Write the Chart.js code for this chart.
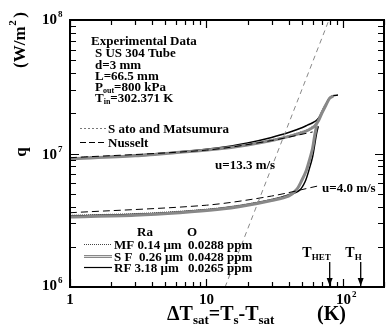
<!DOCTYPE html>
<html>
<head>
<meta charset="utf-8">
<script src="https://cdn.jsdelivr.net/npm/chart.js@4.4.1/dist/chart.umd.min.js"></script>
<style>
  html, body { margin: 0; padding: 0; background: #fff; }
  #wrap { width: 387px; height: 329px; }
</style>
</head>
<body>
<div id="wrap"><canvas id="chart" width="387" height="329"></canvas></div>
<script>
// axis ranges
const xMin = 1, xMax = 200;
const yMin = 1e6, yMax = 1e8;

// u = 13.3 m/s
const rfHighDT = [1, 3, 6.4, 12, 20, 30, 41, 50, 55, 60, 65, 70, 75, 80, 86, 92];
const rfHighQ  = [9.2e6, 9.7e6, 1.03e7, 1.1e7, 1.2e7, 1.32e7, 1.45e7, 1.56e7, 1.63e7, 1.7e7, 1.8e7, 2.0e7, 2.3e7, 2.6e7, 2.72e7, 2.74e7];
const sfHighDT = [1, 3, 6.4, 12, 20, 30, 41, 50, 56, 62, 66, 70, 75, 80, 85];
const sfHighQ  = [9.1e6, 9.6e6, 1.02e7, 1.08e7, 1.16e7, 1.25e7, 1.35e7, 1.43e7, 1.5e7, 1.6e7, 1.75e7, 2.0e7, 2.3e7, 2.6e7, 2.7e7];
const mfHighDT = [1, 3, 6.4, 12, 20, 30, 41, 50, 56, 62, 66, 70, 75, 80, 84];
const mfHighQ  = [9.3e6, 9.7e6, 1.03e7, 1.09e7, 1.17e7, 1.27e7, 1.37e7, 1.46e7, 1.53e7, 1.65e7, 1.85e7, 2.1e7, 2.4e7, 2.65e7, 2.7e7];

// u = 4.0 m/s
const rfLowDT = [1, 3, 6.4, 12, 20, 30, 40, 48, 53, 57, 60, 62, 64, 66];
const rfLowQ  = [3.4e6, 3.5e6, 3.65e6, 3.85e6, 4.15e6, 4.5e6, 4.9e6, 5.3e6, 6.2e6, 7.8e6, 9.5e6, 1.15e7, 1.4e7, 1.6e7];
const sfLowDT = [1, 3, 6.4, 12, 20, 30, 40, 46, 50, 54, 57, 60, 62, 64];
const sfLowQ  = [3.35e6, 3.45e6, 3.6e6, 3.8e6, 4.1e6, 4.45e6, 4.8e6, 5.4e6, 6.3e6, 7.5e6, 9.0e6, 1.1e7, 1.35e7, 1.6e7];
const mfLowDT = [1, 3, 6.4, 12, 20, 30, 40, 47, 51, 55, 58, 61, 63, 65];
const mfLowQ  = [3.45e6, 3.55e6, 3.7e6, 3.9e6, 4.2e6, 4.55e6, 4.95e6, 5.6e6, 6.6e6, 7.9e6, 9.6e6, 1.2e7, 1.45e7, 1.65e7];

// correlations
const nuHighDT = [1, 10, 30, 60];
const nuHighQ  = [9.3e6, 1.06e7, 1.25e7, 1.45e7];
const nuLowDT = [1, 10, 30, 65];
const nuLowQ  = [3.6e6, 4.1e6, 4.8e6, 5.7e6];
const satoDT = [13.7, 79];
const satoQ  = [1e6, 1e8];

// markers on the x axis
const tHET = 80, tH = 135;

const pts = (xs, ys) => xs.map((x, i) => ({ x: x, y: ys[i] }));

const line = (data, color, width, dash) => ({
    data: data, borderColor: color, borderWidth: width, borderDash: dash || [],
    pointRadius: 0, fill: false, tension: 0.3
});

const frame = {
    id: 'frame',
    afterDraw(chart) {
        const { ctx, chartArea: a, scales } = chart;
        const sx = scales.x, sy = scales.y;
        ctx.save();
        ctx.strokeStyle = '#000';
        ctx.fillStyle = '#000';

        // ticks, inside on all four sides
        ctx.lineWidth = 1.2;
        for (let d = 1; d <= 100; d *= 10) {
            for (let m = 1; m <= 9; m++) {
                const v = d * m;
                if (v > xMax) break;
                const px = Math.round(sx.getPixelForValue(v)) + 0.5;
                const len = m === 1 ? 8 : 5;
                ctx.beginPath();
                ctx.moveTo(px, a.bottom); ctx.lineTo(px, a.bottom - len);
                ctx.moveTo(px, a.top); ctx.lineTo(px, a.top + len);
                ctx.stroke();
            }
        }
        for (let d = 1e6; d < yMax; d *= 10) {
            for (let m = 1; m <= 9; m++) {
                const py = Math.round(sy.getPixelForValue(d * m)) + 0.5;
                const len = m === 1 ? 9 : 6;
                ctx.beginPath();
                ctx.moveTo(a.left, py); ctx.lineTo(a.left + len, py);
                ctx.moveTo(a.right, py); ctx.lineTo(a.right - len, py);
                ctx.stroke();
            }
        }
        ctx.lineWidth = 2;
        ctx.strokeRect(a.left, a.top, a.right - a.left, a.bottom - a.top);

        // tick labels
        const sup = (base, exp, x, y, size) => {
            ctx.font = 'bold ' + size + 'px "Liberation Serif"';
            ctx.textAlign = 'left';
            ctx.textBaseline = 'alphabetic';
            ctx.fillText(base, x, y);
            const w = ctx.measureText(base).width;
            ctx.font = 'bold ' + Math.round(size * 0.62) + 'px "Liberation Serif"';
            ctx.fillText(exp, x + w + 1, y - size * 0.45);
        };
        sup('10', '8', 42, sy.getPixelForValue(1e8) + 4, 15);
        sup('10', '7', 42, sy.getPixelForValue(1e7) + 5, 15);
        sup('10', '6', 42, sy.getPixelForValue(1e6) + 3, 15);

        ctx.font = 'bold 15px "Liberation Serif"';
        ctx.textAlign = 'center';
        ctx.textBaseline = 'alphabetic';
        ctx.fillText('1', sx.getPixelForValue(1), 304);
        ctx.fillText('10', sx.getPixelForValue(10), 304);
        sup('10', '2', sx.getPixelForValue(100) - 7, 304, 15);

        // axis titles
        ctx.save();
        ctx.translate(25, 42);
        ctx.rotate(-Math.PI / 2);
        ctx.textAlign = 'center';
        ctx.font = 'bold 17px "Liberation Serif"';
        ctx.fillText('(W/m ', -3, 0);
        ctx.font = 'bold 11px "Liberation Serif"';
        ctx.fillText('2', 19, -9);
        ctx.font = 'bold 17px "Liberation Serif"';
        ctx.fillText(')', 27, 0);
        ctx.restore();

        ctx.save();
        ctx.translate(26, 152);
        ctx.rotate(-Math.PI / 2);
        ctx.textAlign = 'center';
        ctx.font = 'bold 17px "Liberation Serif"';
        ctx.fillText('q', 0, 0);
        ctx.restore();

        // x title: ΔTsat=Ts-Tsat   (K)
        let x = 167;
        const yT = 320;
        const seg = (t, size, dy) => {
            ctx.font = 'bold ' + size + 'px "Liberation Serif"';
            ctx.textAlign = 'left';
            ctx.fillText(t, x, yT + dy);
            x += ctx.measureText(t).width;
        };
        seg('\u0394T', 20, 0); seg('sat', 13, 4); seg('=T', 20, 0); seg('s', 13, 4);
        seg('-T', 20, 0); seg('sat', 13, 4);
        ctx.font = 'bold 20px "Liberation Serif"';
        ctx.fillText('(K)', 317, yT);

        // arrows, label sits left of the arrow
        const arrow = (v, sub) => {
            const px = sx.getPixelForValue(v);
            ctx.lineWidth = 1.3;
            ctx.beginPath();
            ctx.moveTo(px, 262); ctx.lineTo(px, a.bottom - 1);
            ctx.stroke();
            ctx.beginPath();
            ctx.moveTo(px - 3, a.bottom - 9); ctx.lineTo(px + 3, a.bottom - 9); ctx.lineTo(px, a.bottom - 1);
            ctx.closePath(); ctx.fill();
            ctx.font = 'bold 14px "Liberation Serif"';
            ctx.textAlign = 'left';
            const w1 = ctx.measureText('T').width;
            ctx.font = 'bold 9px "Liberation Serif"';
            const w2 = ctx.measureText(sub).width;
            const x0 = px + 1 - w1 - w2;
            ctx.font = 'bold 14px "Liberation Serif"';
            ctx.fillText('T', x0, 257);
            ctx.font = 'bold 9px "Liberation Serif"';
            ctx.fillText(sub, x0 + w1, 260);
        };
        arrow(tHET, 'HET');
        arrow(tH, 'H');

        // info block
        const txt = (t, px, py, size) => {
            ctx.font = 'bold ' + (size || 13) + 'px "Liberation Serif"';
            ctx.textAlign = 'left';
            ctx.fillText(t, px, py);
            return ctx.measureText(t).width;
        };
        txt('Experimental Data', 91, 45);
        txt('S US 304 Tube', 95, 57);
        txt('d=3 mm', 95, 69);
        txt('L=66.5 mm', 95, 80);
        let w = txt('P', 95, 91);
        let w2 = txt('out', 95 + w, 93, 8);
        txt('=800 kPa', 95 + w + w2, 91);
        w = txt('T', 95, 102);
        w2 = txt('in', 95 + w, 104, 8);
        txt('=302.371 K', 95 + w + w2, 102);

        // correlation legend
        ctx.lineWidth = 1;
        ctx.strokeStyle = '#777';
        ctx.setLineDash([2, 2]);
        ctx.beginPath(); ctx.moveTo(80, 128.5); ctx.lineTo(106, 128.5); ctx.stroke();
        ctx.strokeStyle = '#000';
        ctx.setLineDash([6, 3]);
        ctx.beginPath(); ctx.moveTo(80, 142.5); ctx.lineTo(106, 142.5); ctx.stroke();
        ctx.setLineDash([]);
        txt('S ato and Matsumura', 108, 133);
        txt('Nusselt', 108, 147);

        // labels on the curves
        txt('u=13.3 m/s', 215, 169);
        txt('u=4.0 m/s', 322, 192);

        // sample legend
        txt('Ra', 137, 236);
        txt('O', 187, 236);
        ctx.lineWidth = 1;
        ctx.strokeStyle = '#444';
        ctx.setLineDash([1, 1]);
        ctx.beginPath(); ctx.moveTo(84, 244.5); ctx.lineTo(112, 244.5); ctx.stroke();
        ctx.setLineDash([]);
        ctx.strokeStyle = '#888';
        ctx.lineWidth = 3;
        ctx.beginPath(); ctx.moveTo(84, 256.5); ctx.lineTo(112, 256.5); ctx.stroke();
        ctx.strokeStyle = '#ddd';
        ctx.lineWidth = 1;
        ctx.beginPath(); ctx.moveTo(84, 256.5); ctx.lineTo(112, 256.5); ctx.stroke();
        ctx.strokeStyle = '#000';
        ctx.lineWidth = 1.2;
        ctx.beginPath(); ctx.moveTo(84, 267.5); ctx.lineTo(112, 267.5); ctx.stroke();
        txt('MF 0.14 \u03bcm', 114, 249);
        txt('0.0288 ppm', 188, 249);
        txt('S F  0.26 \u03bcm', 114, 261);
        txt('0.0428 ppm', 188, 261);
        txt('RF 3.18 \u03bcm', 114, 272);
        txt('0.0265 ppm', 188, 272);

        ctx.restore();
    }
};

new Chart(document.getElementById('chart'), {
    type: 'line',
    data: {
        datasets: [
            line(pts(satoDT, satoQ), '#888', 1, [5, 4]),
            line(pts(nuHighDT, nuHighQ), '#000', 1, [7, 4]),
            line(pts(nuLowDT, nuLowQ), '#000', 1, [7, 4]),
            line(pts(sfHighDT, sfHighQ), '#888', 3),
            line(pts(sfHighDT, sfHighQ), '#ddd', 1),
            line(pts(sfLowDT, sfLowQ), '#888', 3),
            line(pts(sfLowDT, sfLowQ), '#ddd', 1),
            line(pts(mfHighDT, mfHighQ), '#444', 1, [1, 1]),
            line(pts(mfLowDT, mfLowQ), '#444', 1, [1, 1]),
            line(pts(rfHighDT, rfHighQ), '#000', 1.5),
            line(pts(rfLowDT, rfLowQ), '#000', 1.5)
        ]
    },
    options: {
        responsive: false,
        animation: false,
        layout: { padding: { left: 70, top: 20, right: 3, bottom: 42 } },
        plugins: { legend: { display: false }, tooltip: { enabled: false } },
        scales: {
            x: { type: 'logarithmic', min: xMin, max: xMax, display: false },
            y: { type: 'logarithmic', min: yMin, max: yMax, display: false }
        }
    },
    plugins: [frame]
});
</script>
</body>
</html>
